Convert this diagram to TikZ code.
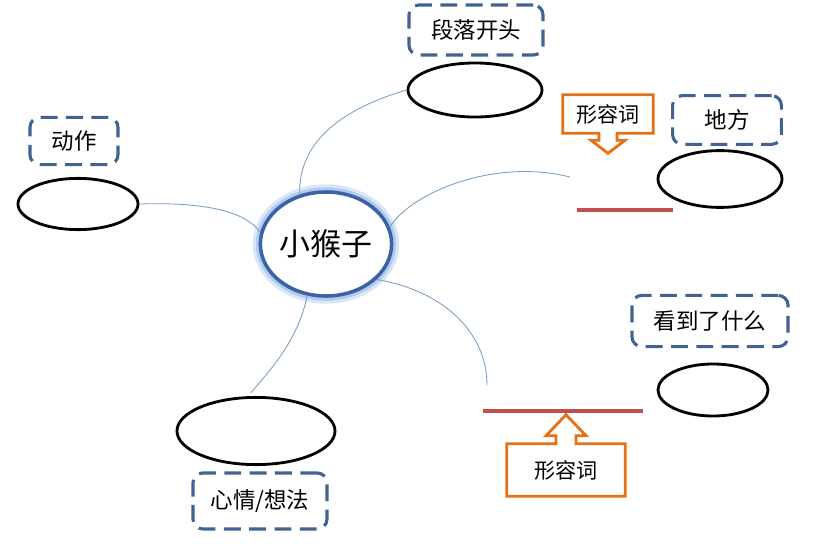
\documentclass[tikz,border=0pt]{standalone}
\usepackage{fontspec}
\setmainfont{Noto Sans CJK SC}
\usepackage{tikz}
\usetikzlibrary{shapes,calc}
\definecolor{boxblue}{RGB}{66,98,145}
\definecolor{linkblue}{RGB}{120,155,200}
\definecolor{ringblue}{RGB}{58,98,165}
\definecolor{glowblue}{RGB}{150,185,235}
\definecolor{adjorange}{RGB}{230,112,20}
\definecolor{adjred}{RGB}{192,80,77}
\tikzset{
  hub/.style={ellipse,draw=ringblue,line width=2.5pt,fill=white,inner sep=0pt,
    minimum width=3.05cm,minimum height=2.6cm,font=\fontsize{22}{26}\selectfont,
    preaction={draw=glowblue!35,line width=11pt},
    preaction={draw=glowblue!75,line width=6.5pt}},
  topic/.style={draw=boxblue,line width=2.2pt,dash pattern=on 12pt off 6pt,
    rounded corners=7pt,inner sep=0pt},
  blank/.style={ellipse,draw,line width=2pt,inner sep=0pt},
  adj/.style={inner sep=0pt,font=\fontsize{15}{18}\selectfont},
  adjbox/.style={draw=adjorange,line width=2pt,line join=miter},
  link/.style={linkblue,line width=0.6pt},
  blankline/.style={adjred,line width=2.2pt}
}
\begin{document}
\begin{tikzpicture}[x=0.025cm,y=-0.025cm,font=\fontsize{16}{19}\selectfont]
\useasboundingbox (0,0) rectangle (829,546);
%center
\node[hub] (hub) at (326,244) {小猴子};
%top
\node[topic,minimum width=3.35cm,minimum height=1.25cm] (ttop) at (476,30) {段落开头};
\node[blank,minimum width=3.35cm,minimum height=1.35cm] (etop) at (475,90) {};
\draw[link] (hub.118) .. controls (298,140) and (345,108) .. (etop.west);
%left
\node[topic,minimum width=2.2cm,minimum height=1.18cm] (tleft) at (74,141) {动作};
\node[blank,minimum width=3.0cm,minimum height=1.28cm] (eleft) at (78,204) {};
\draw[link] (eleft.east) .. controls (200,202) and (245,210) .. (hub.170);
%right upper
\coordinate (end1) at (570,177);
\draw[link] (hub.15) .. controls (412,192) and (495,158) .. (end1);
\draw[blankline] (577,210) -- (673,210);
\node[adj,minimum width=2.25cm,minimum height=0.95cm] (adj1) at (608,114) {形容词};
\draw[adjbox] (adj1.south west) -- (adj1.north west) -- (adj1.north east) -- (adj1.south east)
  -- ($(adj1.south)+(9,0)$) -- ($(adj1.south)+(9,7)$) -- ($(adj1.south)+(17,7)$)
  -- ($(adj1.south)+(0,20)$) -- ($(adj1.south)+(-17,7)$) -- ($(adj1.south)+(-9,7)$)
  -- ($(adj1.south)+(-9,0)$) -- cycle;
\node[topic,minimum width=2.72cm,minimum height=1.22cm] (tplace) at (727,120) {地方};
\node[blank,minimum width=3.1cm,minimum height=1.42cm] (eplace) at (720,179) {};
%right lower
\coordinate (end2) at (487,385);
\draw[link] (hub.-35) .. controls (440,290) and (487,330) .. (end2);
\draw[blankline] (483,411) -- (643,411);
\node[adj,minimum width=2.95cm,minimum height=1.3cm] (adj2) at (566,470) {形容词};
\draw[adjbox] (adj2.north west) -- (adj2.south west) -- (adj2.south east) -- (adj2.north east)
  -- ($(adj2.north)+(10,0)$) -- ($(adj2.north)+(10,-8)$) -- ($(adj2.north)+(20,-8)$)
  -- ($(adj2.north)+(0,-29)$) -- ($(adj2.north)+(-20,-8)$) -- ($(adj2.north)+(-10,-8)$)
  -- ($(adj2.north)+(-10,0)$) -- cycle;
\node[topic,minimum width=3.9cm,minimum height=1.28cm] (tsee) at (710,321) {看到了什么};
\node[blank,minimum width=2.75cm,minimum height=1.3cm] (esee) at (713,390) {};
%bottom
\node[blank,minimum width=3.95cm,minimum height=1.68cm] (emood) at (256,431) {};
\node[topic,minimum width=3.35cm,minimum height=1.4cm] (tmood) at (260,501) {心情/想法};
\draw[link,shorten >=3pt] (hub.250) .. controls (298,340) and (272,368) .. (emood.103);
\end{tikzpicture}
\end{document}
